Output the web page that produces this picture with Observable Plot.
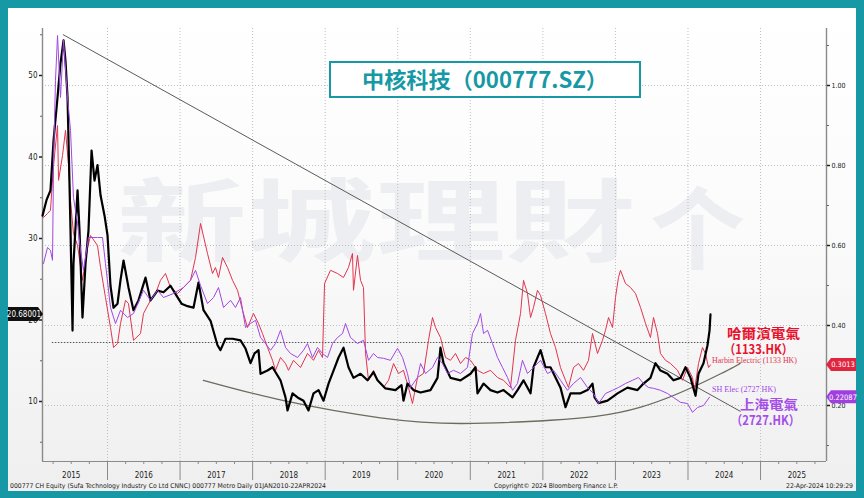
<!DOCTYPE html>
<html><head><meta charset="utf-8">
<script src="https://cdn.jsdelivr.net/npm/d3@7"></script>
<script src="https://cdn.jsdelivr.net/npm/@observablehq/plot@0.6"></script>
<style>
html,body{margin:0;padding:0;}
body{width:864px;height:498px;background:#1799a5;position:relative;overflow:hidden;}
#panel{position:absolute;left:8px;top:8px;width:848px;height:483px;background:linear-gradient(#ffffff 0%,#fbfbfb 45%,#efefef 100%);}
#wm,#chart,#over{position:absolute;left:0;top:0;}
</style></head><body>
<div id="panel"></div>
<svg id="wm" width="864" height="498"></svg>
<div id="chart"></div>
<svg id="over" width="864" height="498"></svg>
<script>
// ---------- data (time in decimal years) ----------
// 000777 CH (left axis, CNY)
const blackT = [2015.104,2015.159,2015.214,2015.256,2015.311,2015.352,2015.394,2015.421,2015.449,2015.469,2015.490,2015.518,2015.531,2015.587,2015.614,2015.655,2015.697,2015.738,2015.780,2015.821,2015.862,2015.904,2015.959,
2016.000,2016.041,2016.083,2016.138,2016.179,2016.221,2016.289,2016.358,2016.427,2016.524,2016.593,2016.689,2016.772,2016.868,2016.951,
2017.020,2017.103,2017.185,2017.254,2017.323,2017.420,2017.516,2017.557,2017.626,2017.723,2017.833,2017.902,2017.971,
2018.026,2018.081,2018.109,2018.205,2018.274,2018.384,2018.453,2018.481,2018.550,2018.619,2018.701,2018.770,2018.839,2018.908,2018.977,
2019.046,2019.115,2019.184,2019.253,2019.321,2019.390,2019.487,2019.583,2019.666,2019.721,2019.831,2019.969,
2020.052,2020.079,2020.134,2020.217,2020.314,2020.451,2020.548,2020.589,2020.631,2020.727,2020.865,
2021.003,2021.072,2021.099,2021.182,2021.278,2021.375,2021.458,2021.582,2021.651,2021.733,2021.830,2021.871,2021.968,
2022.036,2022.105,2022.243,2022.312,2022.381,2022.519,2022.615,2022.684,2022.712,2022.767,2022.891,
2023.029,2023.166,2023.304,2023.387,2023.483,2023.552,2023.621,2023.717,2023.800,2023.897,2023.966,
2024.035,2024.104,2024.145,2024.214,2024.269,2024.297,2024.310];
const blackV = [32.8,34.7,35.9,42.0,47.3,51.5,54.3,51.8,47.3,39.6,31.0,18.7,26.9,35.9,31.0,20.3,26.9,31.0,40.8,37.1,39.0,35.3,32.8,
30.4,24.2,21.5,22.0,24.9,27.3,24.0,21.2,22.4,25.2,22.4,23.6,23.4,24.2,23.0,
22.0,21.7,21.5,24.6,21.2,19.9,16.9,16.3,17.7,17.7,17.5,16.5,14.7,
15.9,16.3,13.4,13.8,14.2,12.6,10.5,8.9,11.0,10.5,10.1,8.9,11.0,11.4,10.1,
12.2,13.8,15.4,16.6,14.2,12.9,13.4,12.6,13.6,12.6,11.6,11.4,
12.0,10.1,12.2,11.4,11.1,11.4,12.9,16.6,14.7,12.9,12.6,
13.4,14.2,11.0,12.2,11.4,11.1,11.4,10.5,11.4,12.6,11.0,14.2,16.3,
14.2,14.2,11.7,9.3,11.0,11.0,11.4,12.2,10.5,9.8,10.1,
11.0,11.7,11.4,12.2,12.9,14.7,13.8,13.4,12.6,12.9,14.2,
12.9,10.7,13.4,14.7,16.9,18.7,20.68];
// Harbin Electric 1133 HK (right axis, HKD)
const redT = [2015.118,2015.173,2015.214,2015.256,2015.311,2015.325,2015.380,2015.421,2015.463,2015.490,2015.531,2015.587,2015.655,2015.724,2015.766,2015.862,2015.904,2015.972,
2016.041,2016.083,2016.138,2016.179,2016.248,2016.289,2016.358,2016.455,2016.496,2016.593,2016.662,2016.730,2016.799,2016.868,2016.965,
2017.047,2017.144,2017.213,2017.282,2017.378,2017.447,2017.488,2017.530,2017.585,2017.654,2017.723,2017.792,2017.861,2017.929,
2018.012,2018.081,2018.136,2018.205,2018.274,2018.315,2018.384,2018.453,2018.494,2018.563,2018.660,2018.756,2018.839,2018.908,2018.963,2018.991,
2019.073,2019.170,2019.252,2019.321,2019.376,2019.390,2019.445,2019.487,2019.528,2019.556,2019.597,2019.666,2019.721,2019.804,2019.873,2019.942,
2020.010,2020.079,2020.148,2020.203,2020.272,2020.355,2020.424,2020.479,2020.520,2020.589,2020.658,2020.727,2020.796,2020.865,2020.934,
2021.003,2021.099,2021.182,2021.278,2021.375,2021.458,2021.554,2021.623,2021.692,2021.733,2021.788,2021.830,2021.871,2021.926,2021.968,
2022.036,2022.105,2022.174,2022.243,2022.312,2022.353,2022.422,2022.491,2022.560,2022.629,2022.684,2022.753,2022.822,2022.863,2022.905,2022.960,
2023.001,2023.042,2023.070,2023.139,2023.208,2023.277,2023.346,2023.415,2023.483,2023.525,2023.580,2023.621,2023.690,2023.759,2023.856,2023.924,2023.993,
2024.062,2024.090,2024.145,2024.200,2024.241,2024.283,2024.310];
const redV = [0.670,0.680,0.688,0.800,0.900,0.763,0.825,0.888,0.800,0.713,0.630,0.600,0.513,0.593,0.625,0.600,0.545,0.470,
0.395,0.345,0.355,0.405,0.463,0.455,0.363,0.380,0.430,0.463,0.480,0.513,0.530,0.495,0.480,
0.495,0.513,0.570,0.655,0.580,0.530,0.545,0.520,0.570,0.545,0.513,0.488,0.438,0.395,
0.430,0.405,0.380,0.345,0.313,0.288,0.320,0.305,0.288,0.313,0.295,0.330,0.313,0.338,0.320,0.505,
0.538,0.530,0.520,0.545,0.580,0.488,0.575,0.513,0.495,0.330,0.263,0.288,0.263,0.245,0.263,0.305,
0.280,0.288,0.245,0.205,0.270,0.280,0.363,0.420,0.395,0.370,0.320,0.313,0.330,0.305,0.320,
0.313,0.288,0.280,0.288,0.270,0.263,0.245,0.363,0.430,0.513,0.480,0.420,0.445,0.488,0.475,
0.430,0.380,0.345,0.295,0.263,0.245,0.295,0.305,0.288,0.313,0.380,0.330,0.363,0.388,0.420,0.395,
0.470,0.520,0.538,0.505,0.495,0.480,0.445,0.405,0.370,0.420,0.380,0.330,0.313,0.305,0.288,0.263,0.295,
0.270,0.238,0.305,0.345,0.330,0.295,0.3013];
// SH Elec 2727 HK (right axis, HKD)
const purpleT = [2015.118,2015.173,2015.214,2015.242,2015.256,2015.283,2015.311,2015.352,2015.394,2015.449,2015.490,2015.531,2015.587,2015.628,2015.669,2015.738,2015.862,2015.931,2015.972,
2016.041,2016.110,2016.179,2016.276,2016.358,2016.496,2016.593,2016.689,2016.772,2016.910,
2017.047,2017.144,2017.213,2017.282,2017.378,2017.461,2017.530,2017.599,2017.695,2017.764,2017.833,2017.902,2017.971,
2018.040,2018.109,2018.177,2018.246,2018.315,2018.384,2018.453,2018.522,2018.619,2018.701,2018.756,2018.825,2018.894,2018.963,
2019.032,2019.101,2019.170,2019.239,2019.280,2019.349,2019.445,2019.528,2019.597,2019.666,2019.721,2019.804,2019.900,
2019.997,2020.066,2020.134,2020.176,2020.272,2020.314,2020.383,2020.479,2020.548,2020.617,2020.686,2020.768,2020.865,2020.961,
2021.030,2021.099,2021.141,2021.182,2021.237,2021.306,2021.375,2021.444,2021.513,2021.582,2021.650,2021.719,2021.788,2021.871,2021.968,
2022.064,2022.147,2022.243,2022.339,2022.422,2022.519,2022.615,2022.698,2022.767,2022.863,2022.960,
2023.042,2023.139,2023.235,2023.318,2023.387,2023.456,2023.525,2023.621,2023.718,2023.800,2023.897,2023.993,
2024.062,2024.131,2024.214,2024.297];
const purpleV = [0.555,0.595,0.588,0.563,0.805,1.013,1.125,0.970,1.113,0.970,0.888,0.720,0.655,0.588,0.538,0.620,0.620,0.620,0.555,
0.445,0.405,0.438,0.420,0.430,0.488,0.463,0.488,0.470,0.480,
0.495,0.513,0.538,0.500,0.455,0.470,0.495,0.445,0.463,0.445,0.470,0.395,0.405,
0.413,0.370,0.355,0.338,0.355,0.388,0.345,0.330,0.320,0.338,0.355,0.320,0.345,0.330,
0.320,0.355,0.370,0.380,0.405,0.370,0.355,0.363,0.313,0.330,0.320,0.318,0.313,
0.343,0.320,0.280,0.245,0.270,0.305,0.280,0.295,0.320,0.305,0.280,0.288,0.280,0.295,
0.380,0.405,0.430,0.380,0.388,0.355,0.320,0.295,0.270,0.238,0.255,0.313,0.280,0.295,0.313,
0.280,0.288,0.263,0.238,0.255,0.270,0.245,0.230,0.205,0.230,0.238,
0.245,0.255,0.263,0.270,0.255,0.245,0.243,0.238,0.230,0.220,0.208,0.205,
0.183,0.195,0.200,0.22087];
// drawn trend lines (CNY, left axis)
const trendT = [2015.39, 2024.72], trendV = [55.0, 8.8];
const arcT = [2017.32, 2018.43, 2019.76, 2020.87, 2022.11, 2023.35, 2024.45, 2024.72];
const arcV = [12.6, 10.1, 8.0, 7.3, 7.7, 9.3, 13.4, 14.7];
const refLevel = 17.24, refT = [2015.24, 2024.30];
const lastBlack = 20.68001, lastRed = 0.3013, lastPurple = 0.22087;
// axes
const years = [2015,2016,2017,2018,2019,2020,2021,2022,2023,2024,2025];
const leftTicks = [10,20,30,40,50], leftMinor = [5,15,25,35,45,55];
const rightTicks = [0.2,0.4,0.6,0.8,1.0], rightMinor = [0.1,0.3,0.5,0.7,0.9,1.1];
const xDomain = [2015.104, 2025.909], yDomain = [0.06, 1.1425];

// left axis (CNY) expressed on the right-axis (HKD) scale
const toR = L => 0.21 + (L - 10) * 0.020375;
const fromR = R => 10 + (R - 0.21) / 0.020375;
const zip = (T, V, f = v => v) => T.slice(0, Math.min(T.length, V.length)).map((t, i) => ({t, v: f(V[i])}));

const black = zip(blackT, blackV, toR);
const red = zip(redT, redV);
const purple = zip(purpleT, purpleV);
const trend = zip(trendT, trendV, toR);
const arc = zip(arcT, arcV, toR);

const boundaries = years.slice(1).concat([2026]).filter(y => y > xDomain[0] && y < xDomain[1]);
const quarters = d3.range(2015.25, 2026, 0.25).filter(q => q % 1 !== 0 && q > xDomain[0] && q < xDomain[1]);
const FONT = "'DejaVu Sans Condensed','DejaVu Sans',sans-serif";

const plot = Plot.plot({
  width: 864, height: 498,
  marginLeft: 42, marginRight: 38, marginTop: 28, marginBottom: 37,
  x: {type: "linear", domain: xDomain},
  y: {domain: yDomain},
  style: {background: "transparent", fontFamily: FONT, color: "#222", overflow: "visible"},
  marks: [
    Plot.gridX(boundaries, {stroke: "#b8b8b8", strokeOpacity: 0.9, strokeDasharray: "1,2"}),
    Plot.gridY(rightTicks, {stroke: "#b8b8b8", strokeOpacity: 0.9, strokeDasharray: "1,2"}),
    Plot.ruleY([yDomain[0]], {stroke: "#8a8a8a", strokeWidth: 1.2}),
    Plot.ruleX(xDomain, {stroke: "#8a8a8a", strokeWidth: 1.4}),
    Plot.axisX(years.map(y => y + 0.5), {anchor: "bottom", tickSize: 0, tickPadding: 11, fontSize: 8, tickFormat: d => String(Math.floor(d)), label: null}),
    Plot.axisX(boundaries, {anchor: "bottom", tickSize: 19, tickFormat: () => "", stroke: "#8a8a8a", label: null}),
    Plot.axisX(quarters, {anchor: "bottom", tickSize: 3, tickFormat: () => "", stroke: "#8a8a8a", label: null}),
    Plot.axisY(leftTicks.map(toR), {anchor: "left", tickSize: 3, tickPadding: 2, fontSize: 8, strokeWidth: 1.5, tickFormat: d => String(Math.round(fromR(d))), label: null}),
    Plot.axisY(leftMinor.map(toR), {anchor: "left", tickSize: 2, tickFormat: () => "", stroke: "#666", label: null}),
    Plot.axisY(rightTicks, {anchor: "right", tickSize: 3, tickPadding: 2, fontSize: 7, strokeWidth: 1.5, tickFormat: d3.format(".2f"), label: null}),
    Plot.axisY(rightMinor, {anchor: "right", tickSize: 2, tickFormat: () => "", stroke: "#666", label: null}),
    Plot.ruleY([{y: toR(refLevel), x1: refT[0], x2: refT[1]}], {y: "y", x1: "x1", x2: "x2", stroke: "#555", strokeWidth: 1, strokeDasharray: "1.5,1.5"}),
    Plot.line(trend, {x: "t", y: "v", stroke: "#5a5a5a", strokeWidth: 1}),
    Plot.line(arc, {x: "t", y: "v", curve: "natural", stroke: "#6b6b5e", strokeWidth: 1.3}),
    Plot.line(red, {x: "t", y: "v", stroke: "#e2344e", strokeWidth: 1}),
    Plot.line(black, {x: "t", y: "v", stroke: "#000", strokeWidth: 2.2}),
    Plot.line(purple, {x: "t", y: "v", stroke: "#a247e6", strokeWidth: 1})
  ]
});
document.getElementById("chart").appendChild(plot);
const ys = plot.scale("y");

// ---------- watermark ----------
const wm = d3.select("#wm");
wm.append("text").attr("x", 117).attr("y", 254)
  .attr("font-family", "'Noto Sans CJK TC','Noto Sans CJK SC',sans-serif").attr("font-weight", 700)
  .attr("font-size", 90).attr("fill", "#eceef1")
  .attr("textLength", 518).attr("lengthAdjust", "spacingAndGlyphs").text("新城理財");
wm.append("text").attr("x", 650).attr("y", 262)
  .attr("font-family", "'Noto Sans CJK SC',sans-serif").attr("font-weight", 700)
  .attr("font-size", 90).attr("fill", "#eceef1")
  .attr("textLength", 95).attr("lengthAdjust", "spacingAndGlyphs").text("个");

// ---------- overlay ----------
const ov = d3.select("#over");
// title box
ov.append("rect").attr("x", 330).attr("y", 62).attr("width", 310).attr("height", 35)
  .attr("fill", "#fff").attr("stroke", "#1799a5").attr("stroke-width", 2);
ov.append("text").attr("x", 362).attr("y", 88)
  .attr("font-family", "'Noto Sans CJK SC',sans-serif").attr("font-weight", 700)
  .attr("font-size", 22).attr("fill", "#1799a5")
  .attr("textLength", 246).attr("lengthAdjust", "spacingAndGlyphs").text("中核科技（000777.SZ）");

// series annotations
const cjk = "'Noto Sans CJK TC','Noto Sans CJK SC',sans-serif";
function label(x, y, txt, fill, size, weight, family, len) {
  const t = ov.append("text").attr("x", x).attr("y", y).attr("fill", fill)
    .attr("font-size", size).attr("font-weight", weight).attr("font-family", family).text(txt);
  if (len) t.attr("textLength", len).attr("lengthAdjust", "spacingAndGlyphs");
  return t;
}
label(727, 338, "哈爾濱電氣", "#e8112d", 13, 700, cjk, 73);
label(724, 354, "（1133.HK）", "#e8112d", 13, 700, cjk, 69);
label(712, 363, "Harbin Electric (1133 HK)", "#e2344e", 7.5, 400, "'Liberation Serif',serif", 85);
label(712, 392, "SH Elec (2727 HK)", "#a247e6", 7.5, 400, "'Liberation Serif',serif", 64);
label(740, 409, "上海電氣", "#a64ee8", 13, 700, cjk, 58);
label(731, 425, "（2727.HK）", "#a64ee8", 13, 700, cjk, 69);

// last-value tags
function tagLeft(v, txt, fill) {
  const y = ys.apply(v);
  ov.append("path").attr("d", `M8,${y-7}H38L43,${y}L38,${y+7}H8Z`).attr("fill", fill);
  ov.append("text").attr("x", 24).attr("y", y + 3).attr("text-anchor", "middle")
    .attr("font-size", 8).attr("font-family", FONT).attr("fill", "#fff").text(txt);
}
function tagRight(v, txt, fill) {
  const y = ys.apply(v);
  ov.append("path").attr("d", `M826,${y}L831,${y-6.5}H856V${y+6.5}H831Z`).attr("fill", fill);
  ov.append("text").attr("x", 843).attr("y", y + 3).attr("text-anchor", "middle")
    .attr("font-size", 7.5).attr("font-family", FONT).attr("fill", "#fff").text(txt);
}
tagLeft(toR(lastBlack), String(lastBlack), "#111");
tagRight(lastRed, String(lastRed), "#e0263f");
tagRight(lastPurple, String(lastPurple), "#a03fe0");

// footer
label(10, 488, "000777 CH Equity (Sufa Technology Industry Co Ltd CNNC) 000777 Metro  Daily 01JAN2010-22APR2024", "#222", 6.5, 400, FONT, 316);
label(494, 488, "Copyright© 2024 Bloomberg Finance L.P.", "#222", 6.5, 400, FONT, 124);
label(786, 488, "22-Apr-2024 10:29:29", "#222", 6.5, 400, FONT, 67);
</script></body></html>
